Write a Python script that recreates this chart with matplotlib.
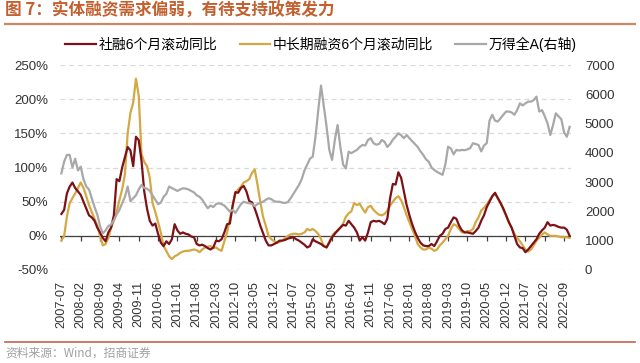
import matplotlib
matplotlib.use("Agg")
import matplotlib.pyplot as plt
from matplotlib.lines import Line2D
import numpy as np
import pandas as pd

# ---------------- data (monthly, 2007-07 .. 2022-11) ----------------
start_month = "2007-07"
n_months = 185

shrong = [32, 38, 62, 72, 78, 70, 65, 60, 50, 40, 30, 27, 22, 12, 5, -3, -8, 5, 12, 30,
          83, 80, 100, 115, 130, 125, 102, 145, 140, 110, 65, 40, 22, 15, 18, 3, -10, -15, -8, -12,
          -5, 17, 8, 3, 5,
          3, 2, -1, -2, -12, -14, -13, -15, -18, -20, -17, -7, -8, -5, 5, 17, 18, 44, 64, 63,
          70, 73, 65, 51, 49, 40, 28, 15, 4, -7, -14, -14, -12, -10, -7, -7, -6, -4, -3, -2,
          -5, -7, -10, -13, -17,
          -15, -5, -8, -10, -12, -15, -17, -10, -2, 3, 8, 12, 16, 15, 22, 17, 12, 5, -7, -2,
          -7, 5, 20, 22, 21, 22, 20, 17, 25, 55, 76, 75, 93, 85, 65, 45, 30, 17, 6, -3,
          -10, -14, -15, -15, -12,
          -15, -8, 0, 3, 10, 12, 20, 27, 25, 15, 8, 5, 5, 4, 3, 7, 12, 22, 30, 42,
          50, 58, 63, 55, 48, 40, 30, 20, 12, 0, -12, -17, -18, -24, -20, -15, -10, -5, 3, 8,
          12, 20, 15, 16, 15, 13, 12, 12, 9, 0]

mlt_loans = [-7, 0, 28, 48, 55, 62, 70, 78, 70, 58, 45, 35, 25, 15, 0, -14, -12, -3, 12, 22,
             35, 52, 68, 90, 150, 180, 195, 230, 205, 120, 108, 102, 85, 48, 35, 20, 5, -15, -22, -30,
             -34, -30, -28, -25, -23,
             -22, -22, -21, -20, -21, -24, -20, -17, -16, -15, -18, -17, -20, -22, -8, 5, 25, 44, 62, 68,
             72, 78, 80, 83, 92, 97, 75, 50, 28, 15, 0, -5, -8, -10, -9, -7, -3, 0, 2, 3,
             3, 2, 3, 5, 10,
             8, 10, 7, 3, -5, -15, -17, -8, 0, 5, 7, 12, 18, 28, 33, 36, 48, 45, 47, 40,
             34, 42, 44, 38, 34, 31, 30, 32, 37, 44, 50, 55, 58, 52, 42, 30, 20, 10, 0, -12,
             -17, -20, -20, -17, -19,
             -22, -20, -14, -10, -5, 0, 10, 17, 15, 10, 5, 5, 7, 7, 10, 20, 27, 37, 41, 46,
             52, 58, 61, 56, 48, 38, 30, 20, 12, 3, -3, -8, -14, -20, -23, -20, -14, -7, -3, 2,
             5, 2, 0, 0, 0, -1, -2, -2, -2, -3]

wind_a = [3300, 3700, 3930, 3930, 3500, 3800, 3400, 3530, 3100, 2850, 2750, 2450, 2150, 1900, 1500,
          1250, 1350, 1500, 1550, 1700, 1900, 2050, 2280, 2500, 2850, 2350, 2450, 2550, 2750, 2900,
          2800, 2780, 2700, 2550, 2400, 2250, 2300, 2500, 2600, 2850, 2800, 2750, 2700, 2750, 2790,
          2780, 2750, 2700, 2650, 2550, 2500, 2400, 2250, 2110, 2200, 2150, 2250, 2280, 2250, 2200,
          2100, 1990, 2050, 1950, 2100, 2250, 2330, 2300, 2280, 2250, 2180, 2250, 2300, 2330, 2400,
          2450, 2420, 2350, 2330, 2330, 2300, 2290, 2320, 2450, 2600, 2750, 2900, 3100, 3400, 3600,
          3800, 3870, 4550, 5460, 6300, 5600, 4900, 4100, 3760, 4440, 4950, 4200, 3600, 3470, 4040,
          3990, 4050, 4100, 4200, 4270, 4250, 4440, 4500, 4330, 4280, 4300, 4440, 4380, 4200, 4300,
          4450, 4550, 4670, 4600, 4500, 4610, 4500, 4400, 4300, 4200, 4050, 3930, 3780, 3700, 3500,
          3415, 3350, 3300, 3250, 3600, 4210, 4150, 3950, 4100, 4080, 4100, 4090, 4120, 4160, 4330,
          4300, 4270, 4050, 4250, 4330, 5100, 5300, 5100, 5070, 5180, 5300, 5410, 5410, 5380, 5300,
          5460, 5690, 5620, 5690, 5750, 5750, 5800, 5920, 5410, 5460, 5250, 5010, 4610, 4950, 5350,
          5250, 5150, 4700, 4550, 4890]

tick_labels = ["2007-07", "2008-02", "2008-09", "2009-04", "2009-11", "2010-06", "2011-01",
               "2011-08", "2012-03", "2012-10", "2013-05", "2013-12", "2014-07", "2015-02",
               "2015-09", "2016-04", "2016-11", "2017-06", "2018-01", "2018-08", "2019-03",
               "2019-10", "2020-05", "2020-12", "2021-07", "2022-02", "2022-09"]

left_ticks = [-50, 0, 50, 100, 150, 200, 250]
right_ticks = [0, 1000, 2000, 3000, 4000, 5000, 6000, 7000]

series_names = ["社融6个月滚动同比", "中长期融资6个月滚动同比", "万得全A(右轴)"]
title = "图 7：实体融资需求偏弱，有待支持政策发力"
source = "资料来源：Wind，招商证券"

# ---------------- style ----------------
plt.rcParams['font.family'] = ['Liberation Sans', 'Noto Sans CJK SC', 'DejaVu Sans']
RED = '#7D1117'
GOLD = '#D4A843'
GRAY = '#A8A8A8'

months = pd.period_range(start_month, periods=n_months, freq='M').strftime('%Y-%m').tolist()
x = np.arange(n_months)
tick_pos = [months.index(t) for t in tick_labels]

fig = plt.figure(figsize=(6.4, 3.63), dpi=100)
W, H = 640, 363
ax = fig.add_axes([60 / W, 1 - 270 / H, (571 - 60) / W, 205 / H])

l1, = ax.plot(x, shrong, color=RED, lw=1.6, label=series_names[0], zorder=3)
l2, = ax.plot(x, mlt_loans, color=GOLD, lw=1.6, label=series_names[1], zorder=2)
ax.set_xlim(-0.5, n_months - 0.5)
ax.set_ylim(-50, 250)
ax.set_yticks(left_ticks)
ax.set_yticklabels([f"{v}%" for v in left_ticks])
for v in left_ticks:
    ax.axhline(v, color='#D9D9D9', lw=0.9, ls=(0, (4, 3)), zorder=0)
ax.axhline(0, color='#404040', lw=0.9, zorder=1)

ax.set_xticks(tick_pos)
ax.set_xticklabels(tick_labels, rotation=90)
ax.tick_params(axis='x', length=0, pad=8, labelsize=9.2, colors='#333333')
ax.tick_params(axis='y', length=0, pad=8.5, labelsize=9.5, colors='#333333')
for s in ax.spines.values():
    s.set_visible(False)

# tick marks on the zero line
sec = ax.secondary_xaxis(50 / 300)
sec.set_xticks(tick_pos)
sec.set_xticklabels([''] * len(tick_pos))
sec.tick_params(direction='out', length=3.5, width=0.9, color='#404040')
sec.spines['bottom'].set_visible(False)
sec.spines['top'].set_visible(False)

ax2 = ax.twinx()
l3, = ax2.plot(x, wind_a, color=GRAY, lw=1.6, label=series_names[2])
ax2.set_ylim(0, 7000)
ax2.set_yticks(right_ticks)
ax2.tick_params(axis='y', length=0, pad=10, labelsize=9.5, colors='#333333')
for s in ax2.spines.values():
    s.set_visible(False)

fig.legend([l1, l2, l3], series_names, loc='center', bbox_to_anchor=(321 / W, 1 - 44 / H),
           ncol=3, frameon=False, handlelength=2.2, handletextpad=0.2,
           columnspacing=1.6, prop={'family': ['Liberation Sans', 'Noto Sans CJK SC'], 'size': 10})

fig.text(5 / W, 1 - 11 / H, title, fontsize=12, fontweight='bold', color='#C2602F',
         va='center', ha='left', family=['Noto Sans CJK SC', 'DejaVu Sans'])
fig.add_artist(Line2D([5 / W, 635 / W], [1 - 24 / H] * 2, color='#CC8765', lw=1.6))
fig.add_artist(Line2D([5 / W, 635 / W], [1 - 342 / H] * 2, color='#C6614F', lw=1.2))
fig.text(5 / W, 1 - 353 / H, source, fontsize=8.5, color='#A0A0A0', va='center', ha='left',
         family=['Noto Sans CJK SC', 'DejaVu Sans'])

fig.savefig('out.png', dpi=100)
